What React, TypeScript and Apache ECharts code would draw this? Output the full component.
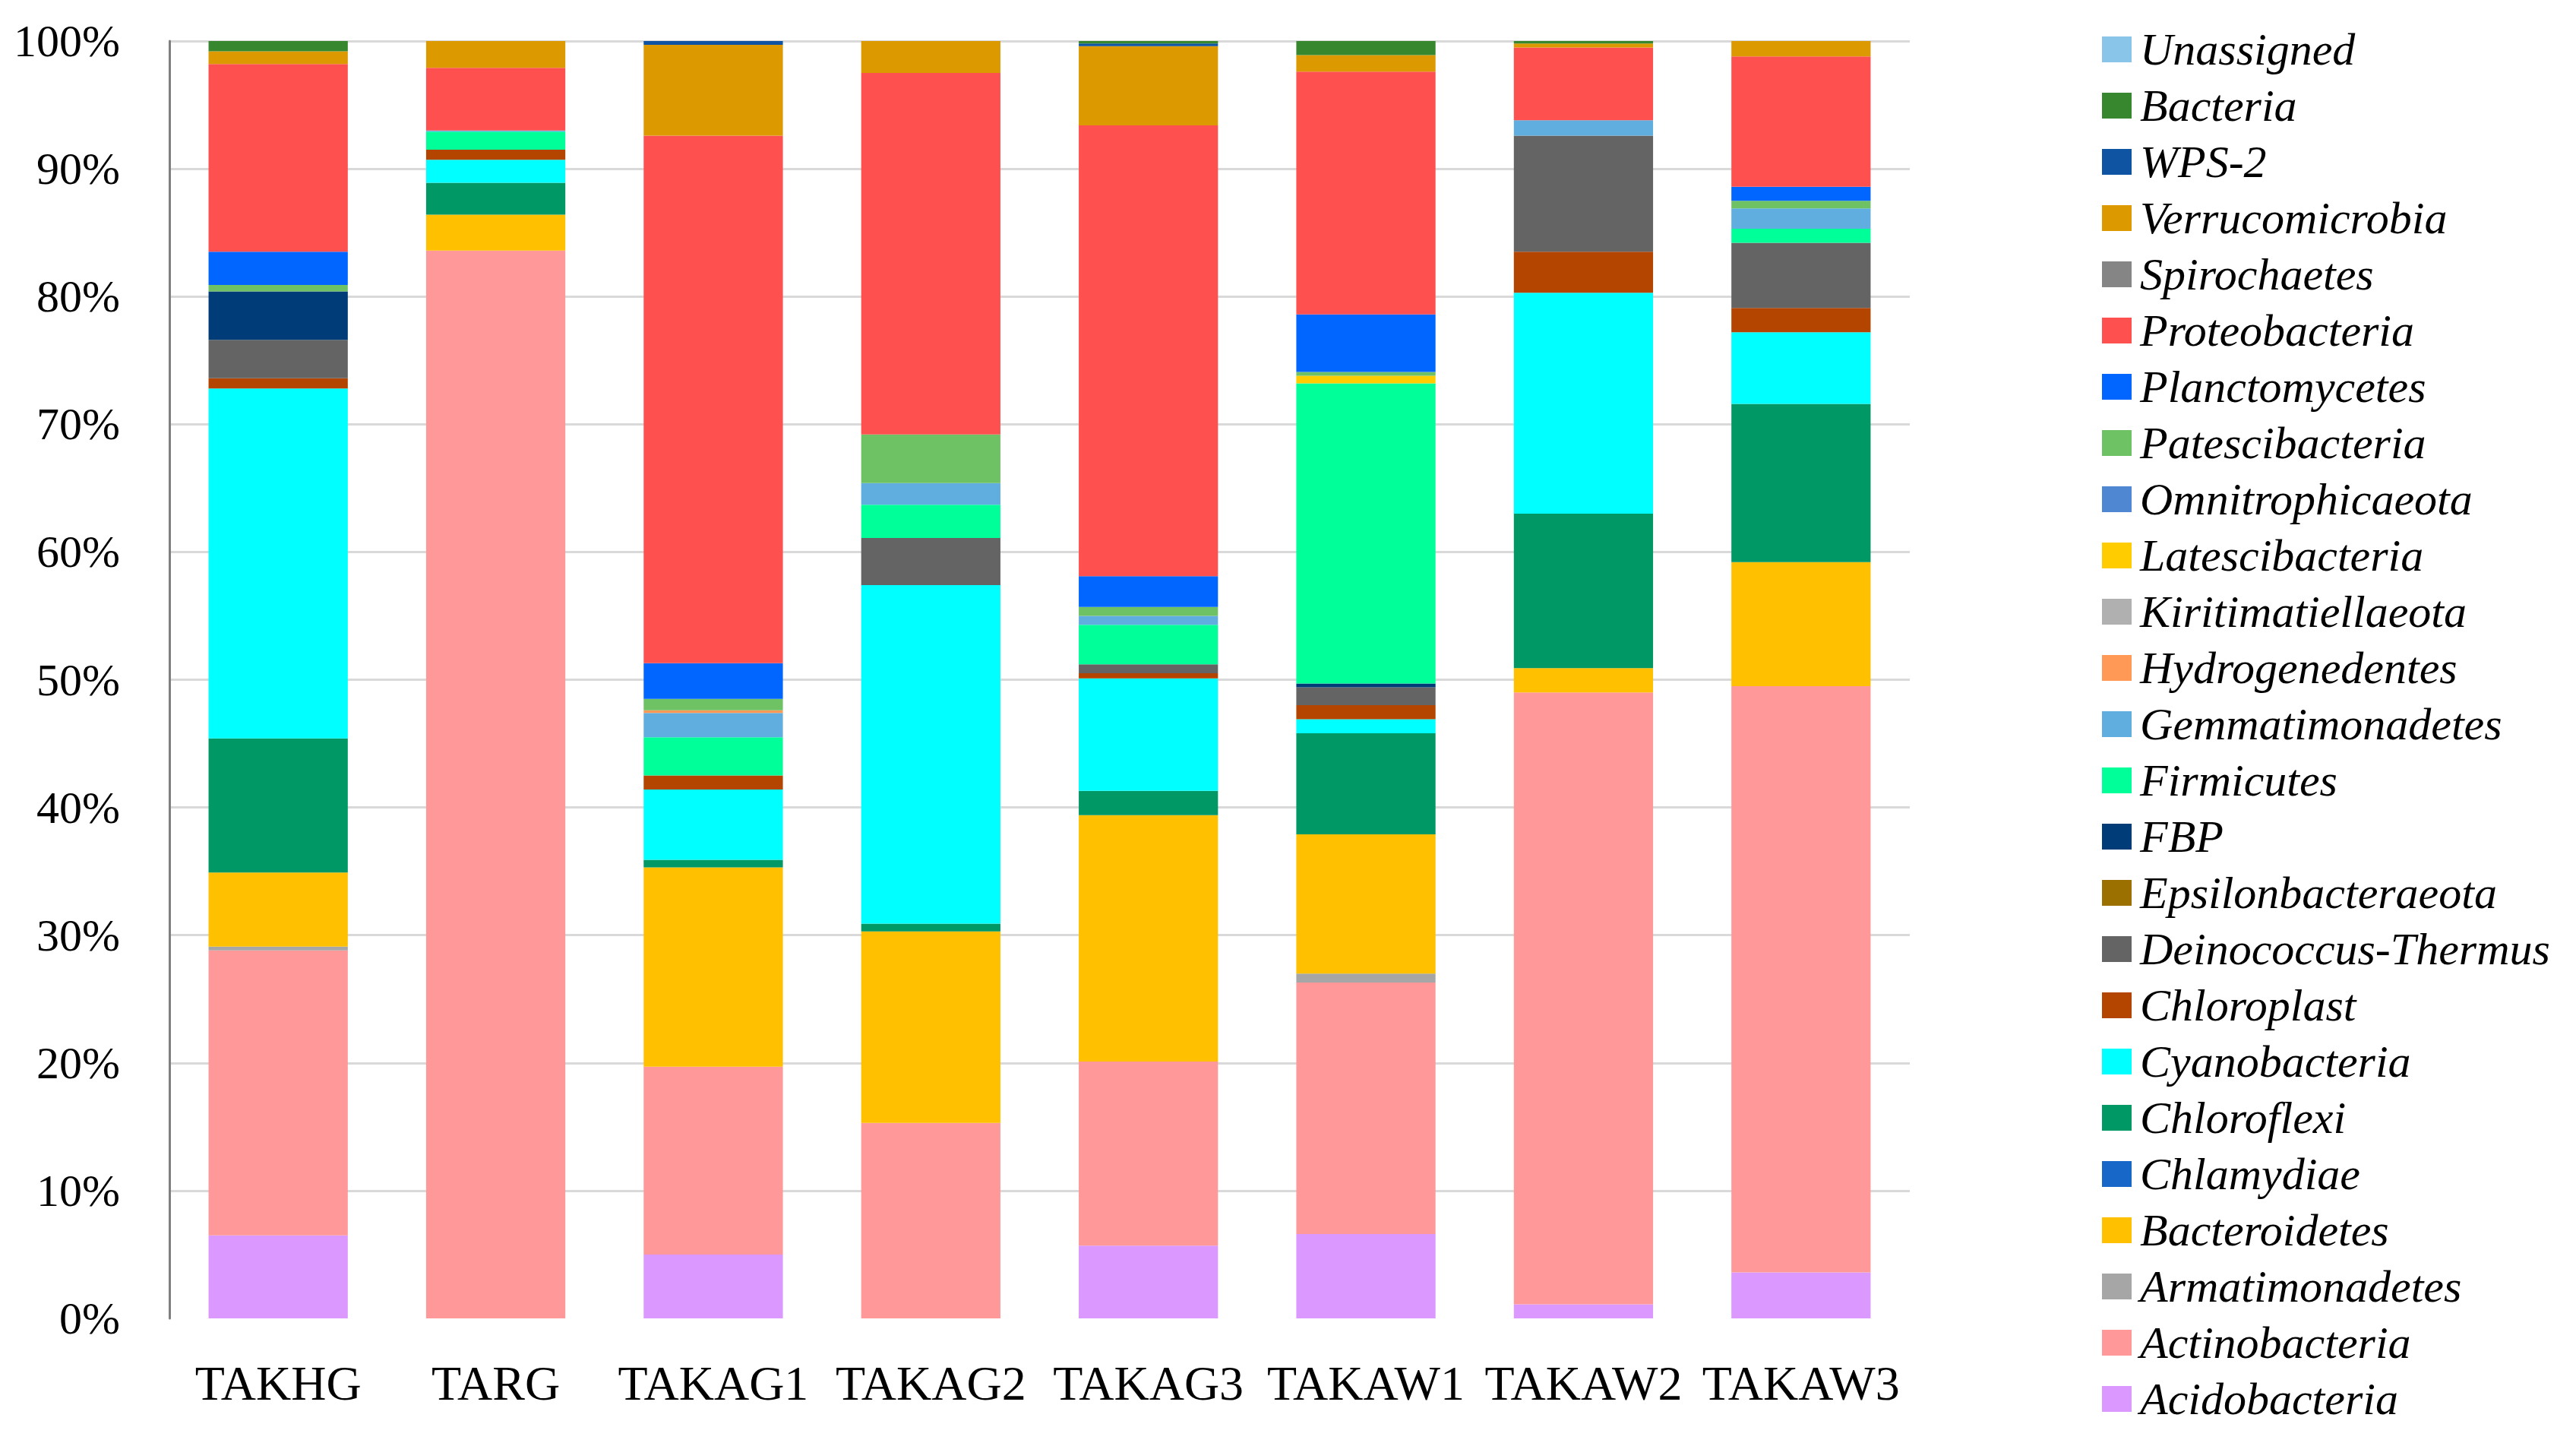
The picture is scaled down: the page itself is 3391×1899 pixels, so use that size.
import React, { useEffect, useRef } from "react";
import * as echarts from "echarts";

const categories = ["TAKHG", "TARG", "TAKAG1", "TAKAG2", "TAKAG3", "TAKAW1", "TAKAW2", "TAKAW3"];

// relative abundance (%) per phylum, in category order
const acidobacteria = [6.5, 0, 5.0, 0, 5.7, 6.6, 1.1, 3.6];
const actinobacteria = [22.3, 83.6, 14.7, 15.3, 14.4, 19.7, 47.9, 45.9];
const armatimonadetes = [0.3, 0, 0, 0, 0, 0.7, 0, 0];
const bacteroidetes = [5.8, 2.8, 15.6, 15.0, 19.3, 10.9, 1.9, 9.7];
const chlamydiae = [0, 0, 0, 0, 0, 0, 0, 0];
const chloroflexi = [10.5, 2.5, 0.6, 0.6, 1.9, 7.9, 12.1, 12.4];
const cyanobacteria = [27.4, 1.8, 5.5, 26.5, 8.8, 1.1, 17.3, 5.6];
const chloroplast = [0.8, 0.8, 1.1, 0, 0.4, 1.1, 3.2, 1.9];
const deinococcus = [3.0, 0, 0, 3.7, 0.7, 1.4, 9.1, 5.1];
const epsilonbacteraeota = [0, 0, 0, 0, 0, 0, 0, 0];
const fbp = [3.8, 0, 0, 0, 0, 0.3, 0, 0];
const firmicutes = [0, 1.4, 3.0, 2.6, 3.1, 23.5, 0, 1.1];
const gemmatimonadetes = [0, 0.1, 1.9, 1.7, 0.7, 0, 1.2, 1.6];
const hydrogenedentes = [0, 0, 0.2, 0, 0, 0, 0, 0];
const kiritimatiellaeota = [0, 0, 0, 0, 0, 0, 0, 0];
const latescibacteria = [0, 0, 0, 0, 0, 0.6, 0, 0];
const omnitrophicaeota = [0, 0, 0, 0, 0, 0, 0, 0];
const patescibacteria = [0.5, 0, 0.9, 3.8, 0.7, 0.3, 0, 0.6];
const planctomycetes = [2.6, 0, 2.8, 0, 2.4, 4.5, 0, 1.1];
const proteobacteria = [14.7, 4.9, 41.3, 28.3, 35.3, 19.0, 5.7, 10.2];
const spirochaetes = [0, 0, 0, 0, 0, 0, 0, 0];
const verrucomicrobia = [1.0, 2.1, 7.1, 2.5, 6.2, 1.3, 0.3, 1.2];
const wps2 = [0, 0, 0.3, 0, 0.2, 0, 0, 0];
const bacteria = [0.8, 0, 0, 0, 0.2, 1.1, 0.2, 0];
const unassigned = [0, 0, 0, 0, 0, 0, 0, 0];

const yTicks = [0, 10, 20, 30, 40, 50, 60, 70, 80, 90, 100];

// stacking order, bottom to top
const seriesDefs: [string, number[], string][] = [
  ["Acidobacteria", acidobacteria, "#DB98FF"],
  ["Actinobacteria", actinobacteria, "#FF9999"],
  ["Armatimonadetes", armatimonadetes, "#A6A6A6"],
  ["Bacteroidetes", bacteroidetes, "#FFC000"],
  ["Chlamydiae", chlamydiae, "#1767C8"],
  ["Chloroflexi", chloroflexi, "#009966"],
  ["Cyanobacteria", cyanobacteria, "#00FFFF"],
  ["Chloroplast", chloroplast, "#B34500"],
  ["Deinococcus-Thermus", deinococcus, "#646464"],
  ["Epsilonbacteraeota", epsilonbacteraeota, "#9B6F00"],
  ["FBP", fbp, "#003C78"],
  ["Firmicutes", firmicutes, "#00FF99"],
  ["Gemmatimonadetes", gemmatimonadetes, "#5FAEDF"],
  ["Hydrogenedentes", hydrogenedentes, "#FF9955"],
  ["Kiritimatiellaeota", kiritimatiellaeota, "#B0B0B0"],
  ["Latescibacteria", latescibacteria, "#FFCC00"],
  ["Omnitrophicaeota", omnitrophicaeota, "#4F87D3"],
  ["Patescibacteria", patescibacteria, "#6FC264"],
  ["Planctomycetes", planctomycetes, "#0066FF"],
  ["Proteobacteria", proteobacteria, "#FF5050"],
  ["Spirochaetes", spirochaetes, "#858585"],
  ["Verrucomicrobia", verrucomicrobia, "#DD9900"],
  ["WPS-2", wps2, "#0E54A3"],
  ["Bacteria", bacteria, "#37872F"],
  ["Unassigned", unassigned, "#89C4E9"],
];

const FONT = "'Liberation Serif', 'DejaVu Serif', serif";

export default function App() {
  const ref = useRef<HTMLDivElement>(null);
  useEffect(() => {
    if (!ref.current) return;
    const chart = echarts.init(ref.current, null, { renderer: "svg" });
    const gridColors = yTicks.map((v) => (v === 0 ? "rgba(0,0,0,0)" : "#D9D9D9"));
    chart.setOption({
      animation: false,
      backgroundColor: "#ffffff",
      grid: { left: 223, top: 54, width: 2291, height: 1681, containLabel: false },
      legend: {
        orient: "vertical",
        left: 2762,
        top: 23,
        itemWidth: 39,
        itemHeight: 34,
        itemGap: 0,
        icon: "rect",
        selectedMode: false,
        data: seriesDefs.map((d) => d[0]).reverse(),
        textStyle: {
          fontFamily: FONT,
          fontStyle: "italic",
          fontSize: 60,
          lineHeight: 74,
          color: "#000",
          padding: [0, 0, 0, 6],
        },
      },
      xAxis: {
        type: "category",
        data: categories,
        axisLine: { show: false },
        axisTick: { show: false },
        axisLabel: { interval: 0, fontFamily: FONT, fontSize: 64, color: "#000", margin: 53 },
      },
      yAxis: {
        type: "value",
        min: 0,
        max: 100,
        interval: 10,
        axisLine: { show: true, lineStyle: { color: "#7F7F7F", width: 3 } },
        axisTick: { show: false },
        splitLine: { show: true, lineStyle: { color: gridColors, width: 3 } },
        axisLabel: {
          fontFamily: FONT,
          fontSize: 60,
          color: "#000",
          margin: 65,
          formatter: "{value}%",
        },
      },
      series: seriesDefs.map(([name, values, color]) => ({
        name,
        type: "bar",
        stack: "total",
        data: values,
        barCategoryGap: "36%",
        itemStyle: { color },
      })),
    });
    return () => chart.dispose();
  }, []);
  return (
    <div
      ref={ref}
      style={{ position: "fixed", left: 0, top: 0, width: "3391px", height: "1899px", background: "#fff" }}
    />
  );
}
